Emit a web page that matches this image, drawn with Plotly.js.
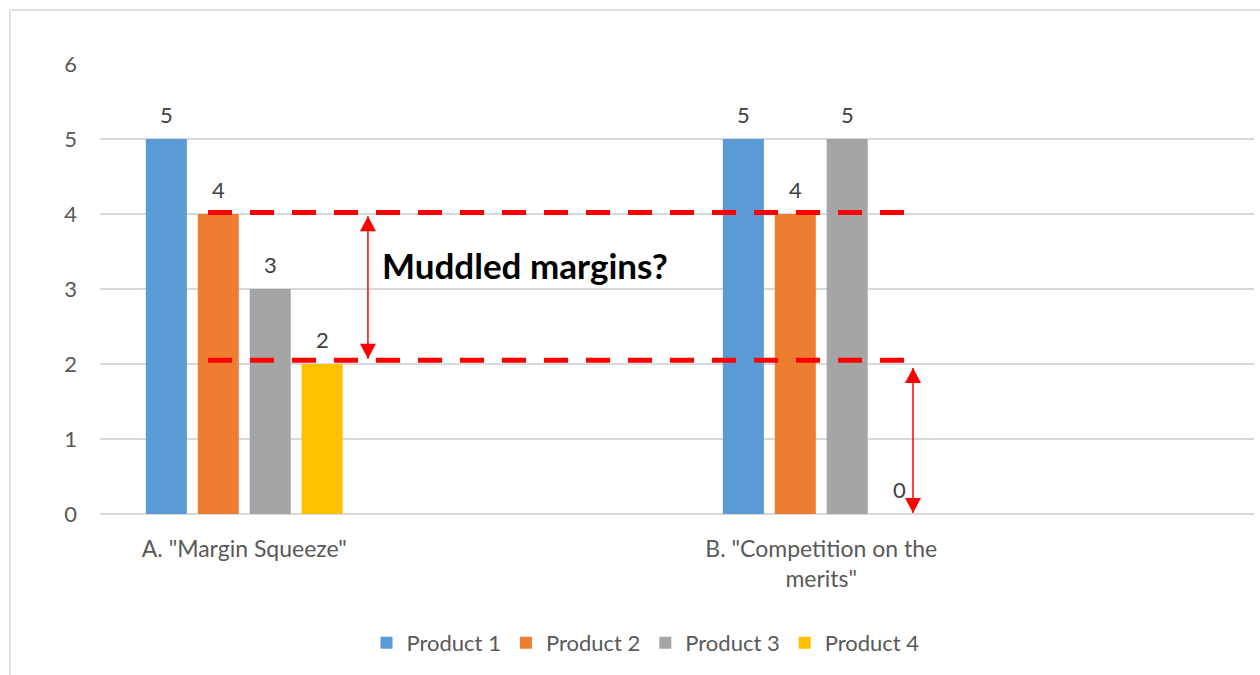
<!DOCTYPE html>
<html>
<head>
<meta charset="utf-8">
<script src="https://cdn.plot.ly/plotly-3.0.1.min.js"></script>
<style>
  html, body { margin: 0; padding: 0; background: #ffffff; }
  #chart { width: 1260px; height: 675px; }
</style>
</head>
<body>
<div id="chart"></div>
<script>
// ---- data ----
const categories = ['A. "Margin Squeeze"', 'B. "Competition on the<br>merits"'];
const seriesNames = ['Product 1', 'Product 2', 'Product 3', 'Product 4'];
const product1 = [5, 5];
const product2 = [4, 4];
const product3 = [3, 5];
const product4 = [2, 0];
const yTicks = [0, 1, 2, 3, 4, 5, 6];
const upperMargin = 4.02;   // red dashed reference line (upper)
const lowerMargin = 2.05;   // red dashed reference line (lower)
const annotationText = 'Muddled margins?';

// ---- styling ----
const colors = ['#5B9BD5', '#ED7D31', '#A5A5A5', '#FFC000'];
const font = 'Lato, "Open Sans", sans-serif';
const allSeries = [product1, product2, product3, product4];

const traces = allSeries.map((vals, i) => ({
  type: 'bar',
  name: seriesNames[i],
  x: categories,
  y: vals,
  marker: { color: colors[i], line: { width: 0 } },
  hoverinfo: 'x+y+name'
}));

// data labels: one per bar, offset to the bar's slot in its group
const slotPx = 52;
const annotations = [];
allSeries.forEach((vals, i) => {
  vals.forEach((v, j) => {
    annotations.push({
      x: categories[j], y: v, xref: 'x', yref: 'y',
      text: String(v), showarrow: false,
      xshift: (i - (allSeries.length - 1) / 2) * slotPx,
      yshift: 25,
      font: { family: font, size: 22, color: '#404040' }
    });
  });
});
annotations.push({
  xref: 'paper', yref: 'y', x: 0.2426, y: 3.32,
  xanchor: 'left', yanchor: 'middle', showarrow: false,
  text: '<b>' + annotationText + '</b>',
  font: { family: font, size: 35, color: '#000000' }
});

const red = '#FF0000';
const arrow1x = 0.2322, arrow2x = 0.7045;
function head(xp, yv, up) {
  return {
    type: 'path', xref: 'paper', yref: 'y',
    xsizemode: 'pixel', ysizemode: 'pixel', xanchor: xp, yanchor: yv,
    path: up ? 'M-8,-15 L8,-15 L0,0 Z' : 'M-8,15 L8,15 L0,0 Z',
    fillcolor: red, line: { width: 0 }
  };
}
const shapes = [
  // chart-area border
  { type: 'rect', xref: 'paper', yref: 'paper', x0: -0.078, x1: 1.03, y0: -0.6, y1: 1.12,
    line: { color: '#D9D9D9', width: 1.5 }, fillcolor: 'rgba(0,0,0,0)', layer: 'below' },
  // dashed lines
  { type: 'line', xref: 'paper', yref: 'y', x0: 0.0936, x1: 0.6967, y0: upperMargin, y1: upperMargin,
    line: { color: red, width: 5, dash: '24px,18px' } },
  { type: 'line', xref: 'paper', yref: 'y', x0: 0.0936, x1: 0.6967, y0: lowerMargin, y1: lowerMargin,
    line: { color: red, width: 5, dash: '24px,18px' } },
  // arrow 1
  { type: 'line', xref: 'paper', yref: 'y', x0: arrow1x, x1: arrow1x, y0: 3.97, y1: 2.07,
    line: { color: red, width: 1.5 } },
  head(arrow1x, 3.97, true), head(arrow1x, 2.07, false),
  // arrow 2
  { type: 'line', xref: 'paper', yref: 'y', x0: arrow2x, x1: arrow2x, y0: 1.947, y1: 0.013,
    line: { color: red, width: 1.5 } },
  head(arrow2x, 1.947, true), head(arrow2x, 0.013, false)
];

const layout = {
  width: 1260, height: 675,
  margin: { l: 100, r: 6, t: 64, b: 161, pad: 0 },
  paper_bgcolor: '#ffffff', plot_bgcolor: '#ffffff',
  barmode: 'group', bargap: 0.64, bargroupgap: 0.21,
  showlegend: true,
  legend: {
    orientation: 'h', x: 0.4727, xanchor: 'center', y: -0.2867, yanchor: 'middle',
    font: { family: font, size: 22, color: '#595959' }, traceorder: 'normal'
  },
  xaxis: {
    type: 'category', categoryorder: 'array', categoryarray: categories,
    range: [-0.25, 1.75], showgrid: false, zeroline: false, showline: false,
    ticks: '', ticklabelstandoff: 19,
    tickfont: { family: font, size: 23, color: '#595959' }, fixedrange: true
  },
  yaxis: {
    range: [0, 6], tickvals: yTicks, ticktext: yTicks.map(String),
    showgrid: true, gridcolor: '#D9D9D9', gridwidth: 1.2,
    zeroline: true, zerolinecolor: '#D9D9D9', zerolinewidth: 1.2,
    showline: false, ticks: '', ticklabelstandoff: 22,
    tickfont: { family: font, size: 22, color: '#595959' }, fixedrange: true
  },
  annotations: annotations,
  shapes: shapes
};

Plotly.newPlot('chart', traces, layout, { displayModeBar: false, staticPlot: true });
</script>
</body>
</html>
